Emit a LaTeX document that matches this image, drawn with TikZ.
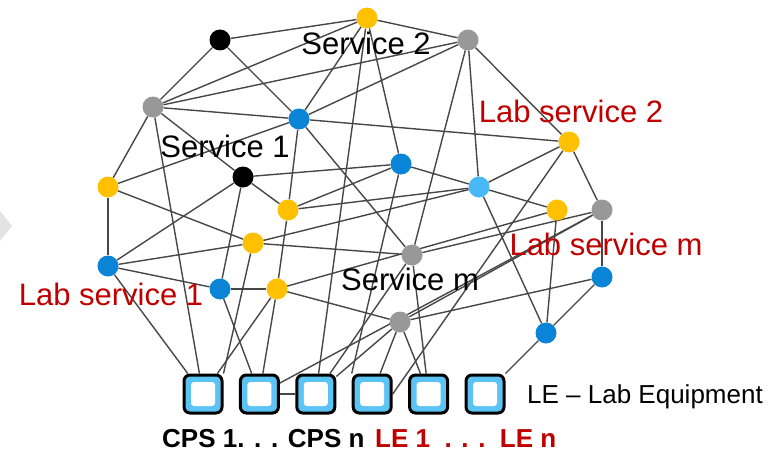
\documentclass[tikz,border=0pt]{standalone}
\usepackage{fontspec}
\setmainfont{Liberation Sans}
\usetikzlibrary{backgrounds}
\definecolor{nodeyellow}{RGB}{255,192,0}
\definecolor{nodeblue}{RGB}{10,132,215}
\definecolor{nodesky}{RGB}{72,184,246}
\definecolor{nodegray}{RGB}{152,152,152}
\definecolor{labred}{RGB}{192,0,0}
\definecolor{boxblue}{RGB}{92,196,245}
\begin{document}
\begin{tikzpicture}
[x=1pt,y=-1pt,
 dotdecorate/.style={shape=circle,inner sep=0pt,minimum size=21pt},
 yelnode/.style={dotdecorate,fill=nodeyellow},
 bluenode/.style={dotdecorate,fill=nodeblue},
 skynode/.style={dotdecorate,fill=nodesky},
 graynode/.style={dotdecorate,fill=nodegray},
 blacknode/.style={dotdecorate,fill=black},
 boxdecorate/.style={shape=rectangle,rounded corners=6pt,minimum size=38pt,
   draw=black,line width=3pt,fill=boxblue,
   path picture={\fill[white,rounded corners=3pt]
     ([shift={(-12pt,-12pt)}]path picture bounding box.center) rectangle
     ([shift={(12pt,12pt)}]path picture bounding box.center);}},
 linedecorate/.style={-,line width=1.4pt,draw=black!72},
 textdecorate/.style={inner sep=0pt,anchor=base,font=\fontsize{31}{37}\selectfont}]
\useasboundingbox (0,0) rectangle (779,452);
\fill[gray!22] (0,211) -- (12,226) -- (0,241) -- cycle;
%% service nodes
\foreach \nodename/\x/\y/\kind in {y1/367/18/yelnode, k1/220/40/blacknode,
  g1/468/40/graynode, g2/153/107/graynode, b1/299/119/bluenode,
  y2/569/142/yelnode, b2/401/164/bluenode, k2/243/177/blacknode,
  y3/108/187/yelnode, lb/479/187/skynode, y4/288/210/yelnode,
  y5/557/210/yelnode, g3/602/210/graynode, y6/253/243/yelnode,
  g4/412/255/graynode, b3/108/266/bluenode, b4/602/277/bluenode,
  b5/220/289/bluenode, y7/277/289/yelnode, g5/400/322/graynode,
  b6/546/333/bluenode}
{
  \node (\nodename) at (\x,\y) [\kind] {};
}
%% equipment boxes
\foreach \nodename/\x in {cps1/203, cps2/259.4, cps3/315.8, le1/372.2,
  le2/428.6, le3/485}
{
  \node (\nodename) at (\x,394) [boxdecorate] {};
}
%% labels
\node (srvtwo) at (366,55) [textdecorate] {Service 2};
\node (srvone) at (225,157) [textdecorate] {Service 1};
\node (srvm) at (410,290) [textdecorate] {Service m};
\node (labtwo) at (571,122) [textdecorate,text=labred] {Lab service 2};
\node (labm) at (606,255) [textdecorate,text=labred] {Lab service m};
\node (labone) at (111,305) [textdecorate,text=labred] {Lab service 1};
\node (legend) at (527,403) [textdecorate,anchor=base west,
  font=\fontsize{26}{30}\selectfont] {LE – Lab Equipment};
\node (cpsnames) at (162,447) [textdecorate,anchor=base west,
  font=\fontsize{26}{30}\selectfont\bfseries] {CPS 1. . . CPS n};
\node (lenames) at (375,447) [textdecorate,anchor=base west,text=labred,
  font=\fontsize{26}{30}\selectfont\bfseries] {LE 1\ \ . . .\ \ LE n};
%% edges
\begin{scope}[on background layer]
\path
\foreach \startnode/\endnode in {
  y1/k1, y1/g2, y1/g1, y1/b1, y1/cps3, y1/b2,
  k1/g2, k1/b1,
  g1/g2, g1/b1, g1/g4, g1/lb, g1/y2,
  g2/b1, g2/y3, g2/k2, g2/cps1,
  b1/y2, b1/y3, b1/y4, b1/g4,
  k2/b2, k2/y4, k2/b3, k2/b5,
  y3/y6, y3/b3,
  y6/b3, y6/lb, y6/g4, y6/cps1.north east,
  b3/b5, b3/cps1,
  b5/y7, b5/cps2,
  y7/y4, y7/cps1, y7/cps2, y7/g5, y7/y5,
  y4/b2, y4/lb, b2/lb, b2/le1.north west,
  cps2/cps3, cps2/g3,
  g4/cps3, g4/le2, g4/g3,
  y2/lb, y2/g3, y2/le1.east,
  lb/y5, lb/b6, y5/b6,
  g3/b4, g3/g5, b4/g5, b4/b6, b6/le3,
  g5/le1, g5/le2, g5/cps3}
{
  (\startnode) edge[linedecorate] (\endnode)
};
\end{scope}
\end{tikzpicture}
\end{document}
